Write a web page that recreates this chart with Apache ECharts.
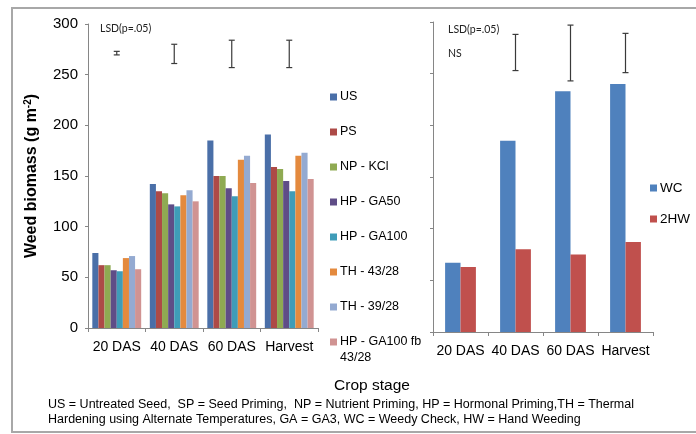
<!DOCTYPE html>
<html>
<head>
<meta charset="utf-8">
<title>Weed biomass by crop stage</title>
<script src="https://cdn.jsdelivr.net/npm/echarts@6/dist/echarts.min.js"></script>
<style>
  html, body { margin: 0; padding: 0; background: #fff; }
  #chart { width: 696px; height: 434px; }
</style>
</head>
<body>
<div id="chart"></div>
<script>
// Crop stages (categories shared by both panels)
const stages = ['20 DAS', '40 DAS', '60 DAS', 'Harvest'];

// Seed treatments (left panel), weed biomass in g m-2
const treatmentNames = ['US', 'PS', 'NP - KCl', 'HP - GA50', 'HP - GA100', 'TH - 43/28', 'TH - 39/28', 'HP - GA100 fb 43/28'];
const usValues      = [74, 142, 185, 191];
const psValues      = [62, 135, 150, 159];
const npKclValues   = [62, 133, 150, 157];
const hpGa50Values  = [57, 122, 138, 145];
const hpGa100Values = [56, 120, 130, 135];
const th4328Values  = [69, 131, 166, 170];
const th3928Values  = [71, 136, 170, 173];
const hpFbValues    = [58, 125, 143, 147];

// LSD (p=.05) bars for the left panel: lower and upper ends
const lsdLeftLow  = [269.5, 261, 257, 257];
const lsdLeftHigh = [273, 280, 284, 284];

// Weed control checks (right panel)
const checkNames = ['WC', '2HW'];
const wcValues = [67, 185, 233, 240];
const hwValues = [63, 80, 75, 87];

// LSD (p=.05) bars for the right panel (first stage is non-significant)
const lsdRightLow  = [null, 253, 243, 251];
const lsdRightHigh = [null, 288, 297, 289];

// Y-axis ticks
const yMin = 0, yMax = 300, yStep = 50;

const treatmentData = [usValues, psValues, npKclValues, hpGa50Values, hpGa100Values, th4328Values, th3928Values, hpFbValues];
const treatmentColors = ['#4A6FA8', '#AD4A47', '#8FAA52', '#5F4D87', '#3F9CB8', '#E48A3E', '#94AAD1', '#D09392'];
const checkColors = ['#4F81BD', '#C0504D'];

const FONT = '"Liberation Sans", Arial, sans-serif';
const AXIS_GRAY = '#868686';

function errorBarSeries(axisIndex, low, high) {
  return {
    type: 'custom',
    xAxisIndex: axisIndex,
    yAxisIndex: axisIndex,
    silent: true,
    z: 5,
    data: stages.map((s, i) => [i, low[i], high[i]]).filter(d => d[1] != null),
    renderItem: function (params, api) {
      const lo = api.coord([api.value(0), api.value(1)]);
      const hi = api.coord([api.value(0), api.value(2)]);
      const cap = 3;
      const st = { stroke: '#3a3a3a', lineWidth: 1.2 };
      return {
        type: 'group',
        children: [
          { type: 'line', shape: { x1: lo[0], y1: hi[1], x2: lo[0], y2: lo[1] }, style: st },
          { type: 'line', shape: { x1: lo[0] - cap, y1: hi[1], x2: lo[0] + cap, y2: hi[1] }, style: st },
          { type: 'line', shape: { x1: lo[0] - cap, y1: lo[1], x2: lo[0] + cap, y2: lo[1] }, style: st }
        ]
      };
    }
  };
}

function categoryAxis(gridIndex) {
  return {
    type: 'category',
    gridIndex: gridIndex,
    data: stages,
    axisLine: { lineStyle: { color: AXIS_GRAY, width: 1 } },
    axisTick: { show: true, length: 4, interval: 0, lineStyle: { color: AXIS_GRAY } },
    axisLabel: { color: '#000', fontSize: 14, fontFamily: FONT, margin: 12, interval: 0 }
  };
}

function valueAxis(gridIndex, showLabels) {
  return {
    type: 'value',
    gridIndex: gridIndex,
    min: yMin, max: yMax, interval: yStep,
    splitLine: { show: false },
    axisLine: { show: true, lineStyle: { color: AXIS_GRAY, width: 1 } },
    axisTick: { show: true, length: 3, lineStyle: { color: AXIS_GRAY } },
    axisLabel: { show: showLabels, color: '#000', fontSize: 15, fontFamily: FONT, margin: 10 }
  };
}

const leftY = valueAxis(0, true);
leftY.name = 'Weed biomass (g m{sup|-2})';
leftY.nameLocation = 'middle';
leftY.nameGap = 48;
leftY.nameTextStyle = {
  color: '#000', fontSize: 16, fontWeight: 'bold', fontFamily: FONT,
  rich: { sup: { fontSize: 10, fontWeight: 'bold', fontFamily: FONT, verticalAlign: 'top', padding: [0, 0, 7, 0] } }
};

const series = [];
treatmentNames.forEach((name, i) => {
  series.push({
    name: name,
    type: 'bar',
    xAxisIndex: 0, yAxisIndex: 0,
    data: treatmentData[i],
    itemStyle: { color: treatmentColors[i] },
    barGap: '0%',
    barCategoryGap: '15%'
  });
});
series.push(errorBarSeries(0, lsdLeftLow, lsdLeftHigh));
series.push({
  name: checkNames[0], type: 'bar', xAxisIndex: 1, yAxisIndex: 1,
  data: wcValues, itemStyle: { color: checkColors[0] },
  barGap: '0%', barCategoryGap: '44%'
});
series.push({
  name: checkNames[1], type: 'bar', xAxisIndex: 1, yAxisIndex: 1,
  data: hwValues, itemStyle: { color: checkColors[1] },
  barGap: '0%', barCategoryGap: '44%'
});
series.push(errorBarSeries(1, lsdRightLow, lsdRightHigh));

const smallFont = 'Lato, "Liberation Sans", sans-serif';

const option = {
  backgroundColor: '#fff',
  animation: false,
  textStyle: { fontFamily: FONT },
  grid: [
    { left: 88, top: 24, width: 230, height: 304 },
    { left: 433, top: 22, width: 220, height: 310 }
  ],
  xAxis: [categoryAxis(0), categoryAxis(1)],
  yAxis: [leftY, valueAxis(1, false)],
  legend: [
    {
      data: treatmentNames,
      orient: 'vertical',
      left: 330, top: 90, padding: 0,
      itemWidth: 7, itemHeight: 7, itemGap: 21,
      icon: 'rect',
      formatter: name => (name === treatmentNames[7] ? 'HP - GA100 fb' : name),
      textStyle: { color: '#000', fontSize: 12.5, lineHeight: 14, fontFamily: FONT, padding: [0, 0, 0, -2] },
      selectedMode: false
    },
    {
      data: checkNames,
      orient: 'vertical',
      left: 650, top: 181, padding: 0,
      itemWidth: 7, itemHeight: 7, itemGap: 17,
      icon: 'rect',
      textStyle: { color: '#000', fontSize: 13.5, lineHeight: 14, fontFamily: FONT, padding: [0, 0, 0, -2] },
      selectedMode: false
    }
  ],
  graphic: [
    { type: 'rect', silent: true, z: -10, shape: { x: 12, y: 8, width: 730, height: 424 },
      style: { fill: 'none', stroke: '#a8a8a8', lineWidth: 2 } },
    { type: 'text', left: 340, top: 351, style: { text: '43/28', fill: '#000', font: '12.5px ' + FONT } },
    { type: 'text', left: 100, top: 23, style: { text: 'LSD(p=.05)', fill: '#222', font: '10.5px ' + smallFont } },
    { type: 'text', left: 448, top: 24, style: { text: 'LSD(p=.05)', fill: '#222', font: '10.5px ' + smallFont } },
    { type: 'text', left: 448, top: 48, style: { text: 'NS', fill: '#222', font: '10.5px ' + smallFont } },
    { type: 'text', x: 372, y: 386, style: { text: 'Crop stage', fill: '#000', font: '15.5px ' + FONT, textAlign: 'center', textVerticalAlign: 'middle' } },
    { type: 'text', left: 48, top: 398, style: { text: 'US = Untreated Seed,  SP = Seed Priming,  NP = Nutrient Priming, HP = Hormonal Priming,TH = Thermal', fill: '#000', font: '12.5px ' + FONT } },
    { type: 'text', left: 48, top: 413, style: { text: 'Hardening using Alternate Temperatures, GA = GA3, WC = Weedy Check, HW = Hand Weeding', fill: '#000', font: '12.5px ' + FONT } }
  ],
  series: series
};

const chart = echarts.init(document.getElementById('chart'), null, { renderer: 'canvas' });
chart.setOption(option);
</script>
</body>
</html>
